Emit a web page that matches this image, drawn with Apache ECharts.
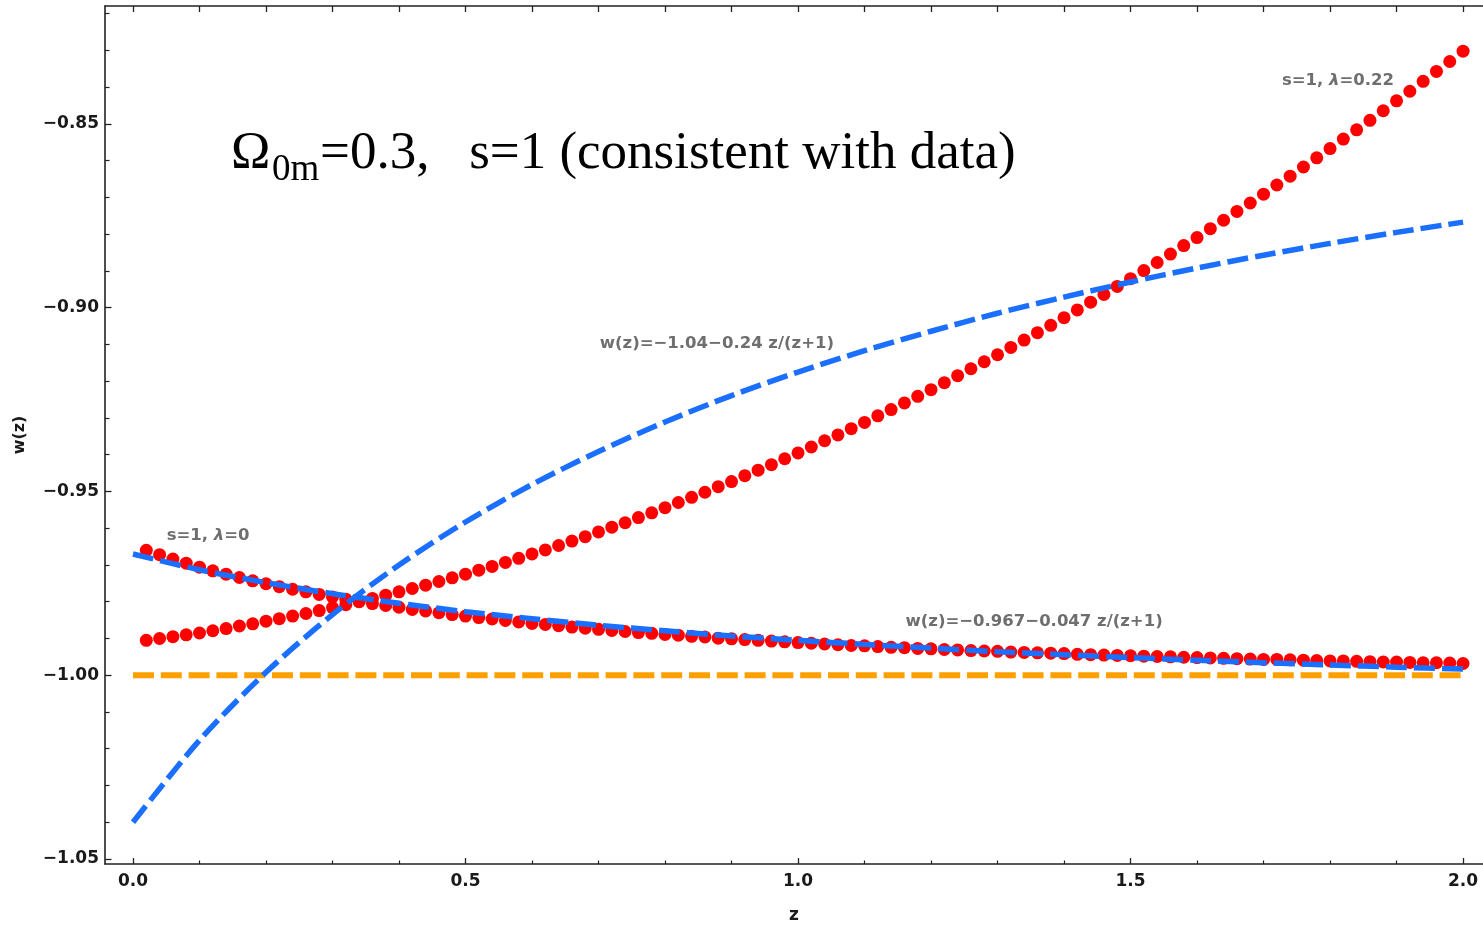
<!DOCTYPE html>
<html>
<head>
<meta charset="utf-8">
<script src="https://cdn.jsdelivr.net/npm/echarts@6/dist/echarts.min.js"></script>
<style>
html,body{margin:0;padding:0;background:#fff;}
#chart{width:1483px;height:926px;}
</style>
</head>
<body>
<div id="chart"></div>
<script>
// ---- data ----
const zRed = [0.02,0.04,0.06,0.08,0.10,0.12,0.14,0.16,0.18,0.20,
  0.22,0.24,0.26,0.28,0.30,0.32,0.34,0.36,0.38,0.40,
  0.42,0.44,0.46,0.48,0.50,0.52,0.54,0.56,0.58,0.60,
  0.62,0.64,0.66,0.68,0.70,0.72,0.74,0.76,0.78,0.80,
  0.82,0.84,0.86,0.88,0.90,0.92,0.94,0.96,0.98,1.00,
  1.02,1.04,1.06,1.08,1.10,1.12,1.14,1.16,1.18,1.20,
  1.22,1.24,1.26,1.28,1.30,1.32,1.34,1.36,1.38,1.40,
  1.42,1.44,1.46,1.48,1.50,1.52,1.54,1.56,1.58,1.60,
  1.62,1.64,1.66,1.68,1.70,1.72,1.74,1.76,1.78,1.80,
  1.82,1.84,1.86,1.88,1.90,1.92,1.94,1.96,1.98,2.00];

// s=1, lambda=0 (red dots)
const wRedLambda0 = [-0.9660,-0.9672,-0.9684,-0.9695,-0.9706,-0.9716,-0.9725,-0.9734,-0.9743,-0.9751,
  -0.9759,-0.9766,-0.9773,-0.9780,-0.9787,-0.9793,-0.9799,-0.9805,-0.9810,-0.9815,
  -0.9821,-0.9825,-0.9830,-0.9835,-0.9839,-0.9843,-0.9847,-0.9851,-0.9855,-0.9859,
  -0.9862,-0.9865,-0.9869,-0.9872,-0.9875,-0.9878,-0.9881,-0.9884,-0.9886,-0.9889,
  -0.9891,-0.9894,-0.9896,-0.9899,-0.9901,-0.9903,-0.9905,-0.9907,-0.9909,-0.9911,
  -0.9913,-0.9915,-0.9917,-0.9919,-0.9920,-0.9922,-0.9924,-0.9925,-0.9927,-0.9928,
  -0.9930,-0.9931,-0.9933,-0.9934,-0.9935,-0.9937,-0.9938,-0.9939,-0.9940,-0.9941,
  -0.9943,-0.9944,-0.9945,-0.9946,-0.9947,-0.9948,-0.9949,-0.9950,-0.9951,-0.9952,
  -0.9953,-0.9954,-0.9955,-0.9956,-0.9957,-0.9957,-0.9958,-0.9959,-0.9960,-0.9961,
  -0.9961,-0.9962,-0.9963,-0.9964,-0.9964,-0.9965,-0.9966,-0.9966,-0.9967,-0.9968];

// s=1, lambda=0.22 (red dots)
const wRedLambda022 = [-0.9905,-0.9900,-0.9895,-0.9890,-0.9885,-0.9879,-0.9873,-0.9866,-0.9860,-0.9853,
  -0.9846,-0.9839,-0.9832,-0.9824,-0.9816,-0.9808,-0.9800,-0.9791,-0.9782,-0.9773,
  -0.9764,-0.9755,-0.9745,-0.9735,-0.9725,-0.9714,-0.9704,-0.9693,-0.9682,-0.9670,
  -0.9659,-0.9647,-0.9635,-0.9623,-0.9610,-0.9597,-0.9585,-0.9571,-0.9558,-0.9544,
  -0.9530,-0.9516,-0.9502,-0.9487,-0.9473,-0.9457,-0.9442,-0.9427,-0.9411,-0.9395,
  -0.9379,-0.9362,-0.9346,-0.9329,-0.9312,-0.9294,-0.9277,-0.9259,-0.9241,-0.9223,
  -0.9204,-0.9185,-0.9166,-0.9147,-0.9128,-0.9108,-0.9088,-0.9068,-0.9048,-0.9027,
  -0.9006,-0.8985,-0.8964,-0.8942,-0.8921,-0.8899,-0.8877,-0.8854,-0.8831,-0.8809,
  -0.8785,-0.8762,-0.8738,-0.8715,-0.8691,-0.8666,-0.8642,-0.8617,-0.8592,-0.8567,
  -0.8541,-0.8516,-0.8490,-0.8464,-0.8437,-0.8411,-0.8384,-0.8357,-0.8330,-0.8302];

const zBlue = [0,0.1,0.2,0.3,0.4,0.5,0.6,0.7,0.8,0.9,1.0,1.1,1.2,1.3,1.4,1.5,1.6,1.7,1.8,1.9,2.0];
// fit w(z) = -1.04 - 0.24 z/(z+1) curve as drawn
const wBlueFitA = [-1.0400,-1.0177,-0.9992,-0.9835,-0.9700,-0.9583,-0.9481,-0.9391,-0.9311,-0.9239,
  -0.9175,-0.9117,-0.9064,-0.9015,-0.8971,-0.8930,-0.8892,-0.8857,-0.8825,-0.8795,-0.8767];
// fit w(z) = -0.967 - 0.047 z/(z+1)
const wBlueFitB = [-0.9670,-0.9713,-0.9748,-0.9778,-0.9804,-0.9827,-0.9846,-0.9864,-0.9879,-0.9893,
  -0.9905,-0.9916,-0.9926,-0.9936,-0.9944,-0.9952,-0.9959,-0.9966,-0.9972,-0.9978,-0.9983];

const zOrange = [0, 2];
const wOrange = [-1, -1];

const xMajorTicks = [0, 0.5, 1.0, 1.5, 2.0];
const xMinorTicks = [0.1,0.2,0.3,0.4,0.6,0.7,0.8,0.9,1.1,1.2,1.3,1.4,1.6,1.7,1.8,1.9];
const xTopTicks = [0,0.1,0.2,0.3,0.4,0.5,0.6,0.7,0.8,0.9,1.0,1.1,1.2,1.3,1.4,1.5,1.6,1.7,1.8,1.9,2.0];
const yMajorTicks = [-1.05, -1.00, -0.95, -0.90, -0.85];
const yMinorTicks = [-1.04,-1.03,-1.02,-1.01,-0.99,-0.98,-0.97,-0.96,-0.94,-0.93,-0.92,-0.91,
  -0.89,-0.88,-0.87,-0.86,-0.84,-0.83,-0.82];

const annotations = [
  {z: 1.812, w: -0.8383, text: '{n|s=1, }{l|λ}{n|=0.22}'},
  {z: 0.878, w: -0.9097, text: '{n|w(z)=\u22121.04\u22120.24 z/(z+1)}'},
  {z: 0.113, w: -0.9621, text: '{n|s=1, }{l|λ}{n|=0}'},
  {z: 1.355, w: -0.9853, text: '{n|w(z)=\u22120.967\u22120.047 z/(z+1)}'}
];

// ---- chart ----
const X_MIN = -0.0421, X_MAX = 2.0300;
const Y_MIN = -1.05136, Y_MAX = -0.8179;
const axisColor = '#222';
const tickFont = {fontFamily: 'DejaVu Sans', fontWeight: 'bold', fontSize: 17, color: '#1a1a1a'};

function pairs(xs, ys) { return xs.map((x, i) => [x, ys[i]]); }
function fmtY(v) { return (v < 0 ? '\u2212' : '') + Math.abs(v).toFixed(2); }

const chart = echarts.init(document.getElementById('chart'), null, {renderer: 'canvas'});

const baseX = {type: 'value', min: X_MIN, max: X_MAX, splitLine: {show: false}};
const baseY = {type: 'value', min: Y_MIN, max: Y_MAX, splitLine: {show: false}};

chart.setOption({
  animation: false,
  backgroundColor: '#fff',
  grid: {left: 105, top: 6, right: 0, bottom: 62, containLabel: false, outerBoundsMode: 'none'},
  xAxis: [
    Object.assign({}, baseX, {
      position: 'bottom',
      axisLine: {show: true, onZero: false, lineStyle: {color: axisColor, width: 1.6}},
      axisTick: {show: true, inside: true, length: 6, customValues: xMajorTicks, lineStyle: {color: axisColor, width: 1.3}},
      axisLabel: Object.assign({show: true, customValues: xMajorTicks, margin: 9,
        formatter: v => v.toFixed(1)}, tickFont),
      name: 'z', nameLocation: 'middle', nameGap: 43,
      nameTextStyle: {fontFamily: 'DejaVu Sans', fontWeight: 'bold', fontSize: 17, color: '#1a1a1a'}
    }),
    Object.assign({}, baseX, {
      position: 'bottom',
      axisLine: {show: false, onZero: false},
      axisTick: {show: true, inside: true, length: 3.5, customValues: xMinorTicks, lineStyle: {color: axisColor, width: 1.2}},
      axisLabel: {show: false}
    }),
    Object.assign({}, baseX, {
      position: 'top',
      axisLine: {show: true, onZero: false, lineStyle: {color: axisColor, width: 1.6}},
      axisTick: {show: true, inside: true, length: 6, customValues: xTopTicks, lineStyle: {color: axisColor, width: 1.3}},
      axisLabel: {show: false}
    })
  ],
  yAxis: [
    Object.assign({}, baseY, {
      position: 'left',
      axisLine: {show: true, onZero: false, lineStyle: {color: axisColor, width: 1.6}},
      axisTick: {show: true, inside: true, length: 6.5, customValues: yMajorTicks, lineStyle: {color: axisColor, width: 1.3}},
      axisLabel: Object.assign({show: true, customValues: yMajorTicks, margin: 6, formatter: fmtY}, tickFont),
      name: 'w(z)', nameLocation: 'middle', nameGap: 77, nameRotate: 90,
      nameTextStyle: {fontFamily: 'DejaVu Sans', fontWeight: 'bold', fontSize: 16, color: '#1a1a1a'}
    }),
    Object.assign({}, baseY, {
      position: 'left',
      axisLine: {show: false, onZero: false},
      axisTick: {show: true, inside: true, length: 4.5, customValues: yMinorTicks, lineStyle: {color: axisColor, width: 1.2}},
      axisLabel: {show: false}
    })
  ],
  series: [
    {
      name: 'w = -1', type: 'line', xAxisIndex: 0, yAxisIndex: 0,
      data: pairs(zOrange, wOrange), showSymbol: false, symbol: 'none',
      lineStyle: {color: '#FFA000', width: 6, type: [21, 6.8], cap: 'butt'}
    },
    {
      name: 's=1, lambda=0', type: 'scatter', xAxisIndex: 0, yAxisIndex: 0,
      data: pairs(zRed, wRedLambda0), symbol: 'circle', symbolSize: 13,
      itemStyle: {color: '#FF0000', opacity: 1}
    },
    {
      name: 's=1, lambda=0.22', type: 'scatter', xAxisIndex: 0, yAxisIndex: 0,
      data: pairs(zRed, wRedLambda022), symbol: 'circle', symbolSize: 13,
      itemStyle: {color: '#FF0000', opacity: 1}
    },
    {
      name: 'fit A', type: 'line', xAxisIndex: 0, yAxisIndex: 0, smooth: 0.3,
      data: pairs(zBlue, wBlueFitA), showSymbol: false, symbol: 'none',
      lineStyle: {color: '#1A6FFF', width: 5.5, type: [21, 7], cap: 'butt'}
    },
    {
      name: 'fit B', type: 'line', xAxisIndex: 0, yAxisIndex: 0, smooth: 0.3,
      data: pairs(zBlue, wBlueFitB), showSymbol: false, symbol: 'none',
      lineStyle: {color: '#1A6FFF', width: 5.5, type: [21, 7], cap: 'butt'}
    }
  ]
});

// ---- text overlays ----
const graphics = annotations.map(a => {
  const p = chart.convertToPixel({xAxisIndex: 0, yAxisIndex: 0}, [a.z, a.w]);
  return {
    type: 'text', x: p[0], y: p[1], z: 100,
    style: {
      text: a.text, align: 'center', verticalAlign: 'middle',
      rich: {
        n: {fontFamily: 'DejaVu Sans', fontWeight: 'bold', fontSize: 16.5, fill: '#6E6E6E', color: '#6E6E6E'},
        l: {fontFamily: 'DejaVu Sans', fontWeight: 'bold', fontStyle: 'italic', fontSize: 16.5, fill: '#6E6E6E', color: '#6E6E6E'}
      }
    }
  };
});
graphics.push(
  {type: 'text', x: 231, y: 154, z: 100, style: {text: '\u03A9', fontFamily: 'Liberation Serif', fontSize: 53, fill: '#000', align: 'left', verticalAlign: 'middle'}},
  {type: 'text', x: 272, y: 170, z: 100, style: {text: '0m', fontFamily: 'Liberation Serif', fontSize: 37, fill: '#000', align: 'left', verticalAlign: 'middle'}},
  {type: 'text', x: 320, y: 154, z: 100, style: {text: '=0.3,   s=1 (consistent with data)', fontFamily: 'Liberation Serif', fontSize: 53, fill: '#000', align: 'left', verticalAlign: 'middle'}}
);
chart.setOption({graphic: graphics});
</script>
</body>
</html>
